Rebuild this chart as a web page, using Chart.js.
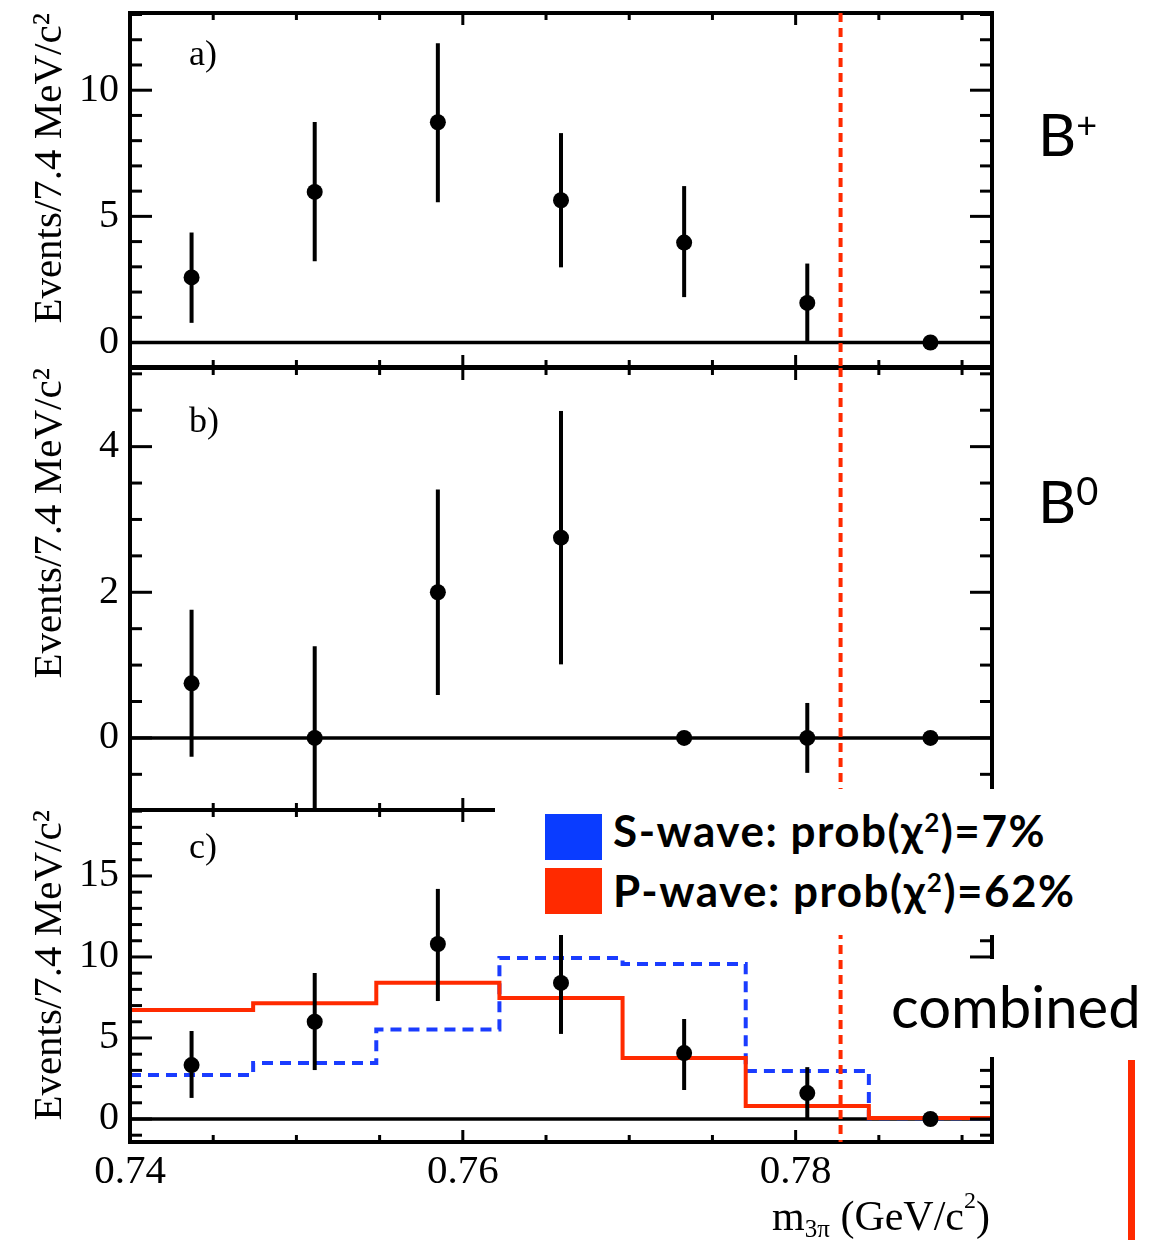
<!DOCTYPE html>
<html>
<head>
<meta charset="utf-8">
<script src="https://cdn.jsdelivr.net/npm/chart.js@4.4.1/dist/chart.umd.min.js"></script>
<style>
  html, body { margin: 0; padding: 0; background: #fff; }
  #page { position: relative; width: 1171px; height: 1240px; overflow: hidden; background: #fff; }
  #page canvas { position: absolute; left: 0; }
  .ovl { position: absolute; white-space: nowrap; color: #000; }
  .slide { font-family: Lato, "Open Sans", sans-serif; }
  .serif { font-family: "Liberation Serif", "Times New Roman", serif; }
  .up { position: relative; }
</style>
</head>
<body>
<div id="page">
  <canvas id="panelA" width="1171" height="381" style="top:0px"></canvas>
  <canvas id="panelB" width="1171" height="470" style="top:355px"></canvas>
  <canvas id="panelC" width="1171" height="443" style="top:797px"></canvas>

  <!-- pasted slide pieces on top of the plot -->
  <div class="ovl" style="left:495px;top:789px;width:676px;height:146px;background:#fff"></div>
  <div class="ovl" style="left:545px;top:814px;width:57px;height:46px;background:#0a3cff"></div>
  <div class="ovl" style="left:545px;top:868px;width:57px;height:46px;background:#ff2a00"></div>
  <div class="ovl slide" style="left:613px;top:808px;font-size:44px;line-height:44px;font-weight:700;letter-spacing:1.5px">S-wave: prob(χ<span class="up" style="font-size:26px;top:-15px">2</span>)=7%</div>
  <div class="ovl slide" style="left:613px;top:868px;font-size:44px;line-height:44px;font-weight:700;letter-spacing:1.5px">P-wave: prob(χ<span class="up" style="font-size:26px;top:-15px">2</span>)=62%</div>

  <div class="ovl" style="left:888px;top:959px;width:283px;height:98px;background:#fff"></div>
  <div class="ovl slide" style="left:891px;top:977px;font-size:58px;line-height:58px">combined</div>
  <div class="ovl" style="left:1128px;top:1060px;width:7px;height:180px;background:#ff2a00"></div>

  <div class="ovl slide" style="left:1038px;top:104px;font-size:59px;line-height:59px">B<span class="up" style="font-size:36px;top:-18px">+</span></div>
  <div class="ovl slide" style="left:1038px;top:471px;font-size:59px;line-height:59px">B<span class="up" style="font-size:38px;top:-18px">0</span></div>

  <div class="ovl serif" style="right:181px;top:1195px;font-size:42px;line-height:42px">m<span class="up" style="font-size:25px;top:7px">3π</span> (GeV/c<span class="up" style="font-size:24px;top:-22px">2</span>)</div>
</div>

<script>
// m(3pi) bins, 7.4 MeV wide
const binEdges = [0.7400, 0.7474, 0.7548, 0.7622, 0.7696, 0.7770, 0.7844, 0.7918];
const binCenters = binEdges.slice(1).map((e, i) => (e + binEdges[i]) / 2);
const omegaMass = 0.7827;
const xMajorTicks = [0.74, 0.76, 0.78];
const xMinorStep = 0.005;

// a) B+
const eventsA  = [2.58, 5.97, 8.73, 5.64, 3.96, 1.57, 0];
const errUpA   = [1.78, 2.77, 3.13, 2.66, 2.24, 1.56, 0];
const errDownA = [1.80, 2.75, 3.17, 2.66, 2.16, 1.57, 0];
const yTicksA  = [0, 5, 10];

// b) B0
const eventsB  = [0.75, 0, 2.00, 2.75, 0, 0, 0];
const errUpB   = [1.01, 1.26, 1.41, 1.74, 0, 0.48, 0];
const errDownB = [1.01, 1.26, 1.41, 1.74, 0, 0.48, 0];
const yTicksB  = [0, 2, 4];

// c) combined, with the two fits
const eventsC  = [3.33, 6.00, 10.80, 8.40, 4.07, 1.60, 0];
const errUpC   = [2.10, 3.01, 3.40, 3.15, 2.10, 1.60, 0];
const errDownC = [2.03, 2.98, 3.52, 3.15, 2.28, 1.60, 0];
const sWave    = [2.72, 3.46, 5.53, 9.94, 9.57, 2.96, 0.05];
const pWave    = [6.73, 7.14, 8.41, 7.47, 3.77, 0.80, 0.06];
const yTicksC  = [0, 5, 10, 15];

const RED = '#ff2a00';
const BLUE = '#1a3cff';
const SERIF = '"Liberation Serif", "Times New Roman", serif';

function line(ctx, x1, y1, x2, y2) {
  ctx.beginPath(); ctx.moveTo(x1, y1); ctx.lineTo(x2, y2); ctx.stroke();
}

// ROOT-like frame: inner ticks on four sides, zero line, error bars, omega line
function rootFrame(p) {
  return {
    id: 'rootFrame',
    beforeDatasetsDraw(chart) {
      const { ctx, chartArea: a, scales: { y } } = chart;
      const y0 = y.getPixelForValue(0);
      ctx.save();
      ctx.strokeStyle = '#000';
      ctx.lineWidth = 3.5;
      line(ctx, a.left, y0, a.right, y0);
      ctx.restore();
    },
    afterDatasetsDraw(chart) {
      const { ctx, chartArea: a, scales: { x, y } } = chart;
      ctx.save();
      ctx.beginPath();
      ctx.rect(a.left, a.top, a.right - a.left, a.bottom - a.top);
      ctx.clip();
      ctx.strokeStyle = '#000';
      ctx.lineWidth = 4;
      p.values.forEach((v, i) => {
        if (!p.errUp[i] && !p.errDown[i]) return;
        const px = x.getPixelForValue(binCenters[i]);
        line(ctx, px, y.getPixelForValue(v + p.errUp[i]), px, y.getPixelForValue(v - p.errDown[i]));
      });
      ctx.restore();
    },
    afterDraw(chart) {
      const { ctx, chartArea: a, scales: { x, y } } = chart;
      ctx.save();
      ctx.strokeStyle = '#000';
      ctx.lineWidth = 3;
      // y ticks
      const k0 = Math.ceil(y.min / p.yMinor - 1e-6), k1 = Math.floor(y.max / p.yMinor + 1e-6);
      for (let k = k0; k <= k1; k++) {
        const v = k * p.yMinor;
        const major = p.yMajor.some(m => Math.abs(m - v) < 1e-6);
        const len = major ? 22 : 12;
        const py = y.getPixelForValue(v);
        line(ctx, a.left, py, a.left + len, py);
        line(ctx, a.right, py, a.right - len, py);
      }
      // x ticks
      const j0 = Math.ceil(x.min / xMinorStep - 1e-6), j1 = Math.floor(x.max / xMinorStep + 1e-6);
      for (let j = j0; j <= j1; j++) {
        const v = j * xMinorStep;
        const major = xMajorTicks.some(m => Math.abs(m - v) < 1e-6);
        const len = major ? 12 : 7;
        const px = x.getPixelForValue(v);
        line(ctx, px, a.top, px, a.top + len);
        line(ctx, px, a.bottom, px, a.bottom - len);
      }
      // frame
      ctx.lineWidth = 4;
      ctx.strokeRect(a.left, a.top, a.right - a.left, a.bottom - a.top);
      // panel label
      ctx.fillStyle = '#000';
      ctx.font = '36px ' + SERIF;
      ctx.textBaseline = 'alphabetic';
      ctx.fillText(p.label, a.left + 59, a.top + p.labelDy);
      // omega mass
      const mx = x.getPixelForValue(omegaMass);
      ctx.strokeStyle = RED;
      ctx.lineWidth = 4;
      ctx.setLineDash([9, 6]);
      line(ctx, mx, a.top, mx, a.bottom);
      ctx.restore();
    }
  };
}

function makePanel(id, p) {
  const datasets = [{
    data: binCenters.map((c, i) => ({ x: c, y: p.values[i] })),
    showLine: false,
    pointRadius: 8,
    pointBackgroundColor: '#000',
    pointBorderWidth: 0,
    clip: false
  }];
  (p.curves || []).forEach(cv => {
    datasets.push({
      data: binEdges.map((e, i) => ({ x: e, y: cv.values[Math.min(i, cv.values.length - 1)] })),
      stepped: true,
      showLine: true,
      pointRadius: 0,
      borderColor: cv.color,
      borderWidth: 4,
      borderDash: cv.dash || [],
      fill: false
    });
  });

  new Chart(document.getElementById(id), {
    type: 'line',
    data: { datasets },
    options: {
      responsive: false,
      animation: false,
      events: [],
      layout: { padding: { left: 0, right: 179, top: 13, bottom: p.padBottom } },
      plugins: { legend: { display: false }, tooltip: { enabled: false } },
      scales: {
        x: {
          type: 'linear',
          min: binEdges[0],
          max: binEdges[binEdges.length - 1],
          display: p.showX,
          afterBuildTicks: s => { s.ticks = xMajorTicks.map(v => ({ value: v })); },
          afterFit: s => {
            s.height = p.showX ? 98 : 0;
            s.paddingLeft = 0; s.paddingRight = 0;
          },
          grid: { display: false, drawTicks: false },
          border: { display: false },
          ticks: {
            color: '#000',
            font: { family: SERIF, size: 41 },
            padding: 6,
            maxRotation: 0,
            autoSkip: false,
            callback: v => v.toFixed(2)
          }
        },
        y: {
          min: p.yMin,
          max: p.yMax,
          afterBuildTicks: s => { s.ticks = p.yMajor.map(v => ({ value: v })); },
          afterFit: s => {
            s.width = 130;
            s.paddingTop = 0; s.paddingBottom = 0;
          },
          grid: { display: false, drawTicks: false },
          border: { display: false },
          ticks: {
            color: '#000',
            font: { family: SERIF, size: 40 },
            padding: 11
          },
          title: {
            display: true,
            text: 'Events/7.4 MeV/c²',
            align: 'end',
            color: '#000',
            font: { family: SERIF, size: 41 },
            padding: { top: 26, bottom: 0 }
          }
        }
      }
    },
    plugins: [rootFrame(p)]
  });
}

makePanel('panelA', {
  values: eventsA, errUp: errUpA, errDown: errDownA,
  yMin: -0.97, yMax: 13.06, yMajor: yTicksA, yMinor: 1,
  label: 'a)', labelDy: 52, padBottom: 14, showX: false
});

makePanel('panelB', {
  values: eventsB, errUp: errUpB, errDown: errDownB,
  yMin: -0.99, yMax: 5.08, yMajor: yTicksB, yMinor: 0.5,
  label: 'b)', labelDy: 64, padBottom: 15, showX: false
});

makePanel('panelC', {
  values: eventsC, errUp: errUpC, errDown: errDownC,
  yMin: -1.42, yMax: 19.07, yMajor: yTicksC, yMinor: 1,
  label: 'c)', labelDy: 48, padBottom: 0, showX: true,
  curves: [
    { values: pWave, color: RED },
    { values: sWave, color: BLUE, dash: [11, 7] }
  ]
});
</script>
</body>
</html>
